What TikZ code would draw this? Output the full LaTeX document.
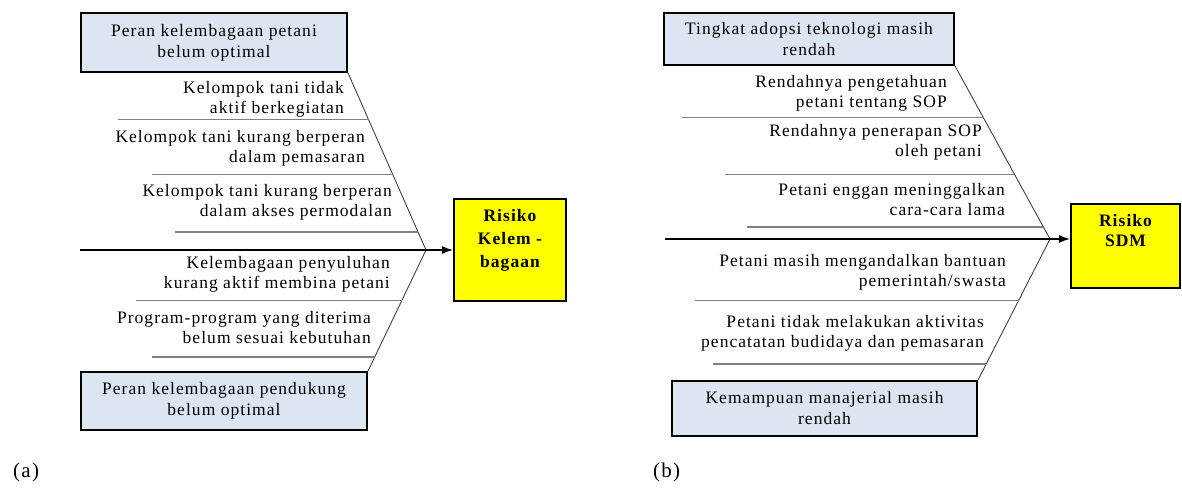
\documentclass[tikz,border=0pt]{standalone}
\usepackage{fontspec}
\setmainfont[LetterSpace=6]{Liberation Serif}
\usetikzlibrary{arrows.meta,calc}
\definecolor{causefill}{HTML}{DCE6F2}
\definecolor{riskfill}{HTML}{FFFF00}
\definecolor{bonegray}{HTML}{808080}

\begin{document}
\begin{tikzpicture}[x=1pt,y=-1pt,
  causebox/.style={draw,line width=2pt,fill=causefill,align=center,inner sep=0pt,font=\rmfamily\fontsize{17.5}{21}\selectfont},
  riskbox/.style={draw,line width=2pt,fill=riskfill,minimum width=112pt},
  risktext/.style={align=center,inner sep=0pt,anchor=north,font=\rmfamily\bfseries\fontsize{17.5}{23}\selectfont},
  subcause/.style={align=right,anchor=east,inner sep=0pt,font=\rmfamily\fontsize{17.5}{20}\selectfont},
  panel/.style={anchor=west,inner sep=0pt,font=\rmfamily\fontsize{21}{24}\selectfont},
  bone/.style={draw=bonegray,line width=1.5pt},
  rib/.style={draw=black!75,line width=0.9pt},
  spine/.style={line width=1.5pt,-{Latex[length=11pt,width=8pt]}}]
  \useasboundingbox (0,0) rectangle (1182,487);

  % (a) kelembagaan
  \node[causebox,minimum width=266pt,minimum height=59pt] (ta) at (214,42.5) {Peran kelembagaan petani\\belum optimal};
  \node[causebox,minimum width=286pt,minimum height=58pt] (ba) at (224,401) {Peran kelembagaan pendukung\\belum optimal};
  \node[riskbox,minimum height=102pt] (ra) at (510,250) {};
  \node[risktext] (rat) at ($(ra.north)+(0,11)$) {Risiko\\Kelem -\\bagaan};
  \coordinate (ja) at (426,250);
  \coordinate (sa) at (80,250);
  \draw[rib] (ta.south east) -- (ja) -- (ba.north east);
  \draw[spine] (sa) -- (ra.west);
  \foreach \t/\l in {0.264/251,0.573/241,0.899/243}
    \draw[bone] ($(ta.south east)!\t!(ja)$) -- ++(-\l,0);
  \foreach \t/\l in {0.418/266,0.885/223}
    \draw[bone] ($(ja)!\t!(ba.north east)$) -- ++(-\l,0);
  \node[subcause] (a1) at (344,99) {Kelompok tani tidak\\aktif berkegiatan};
  \node[subcause] (a2) at (365,148) {Kelompok tani kurang berperan\\dalam pemasaran};
  \node[subcause] (a3) at (392,202) {Kelompok tani kurang berperan\\dalam akses permodalan};
  \node[subcause] (a4) at (390,274) {Kelembagaan penyuluhan\\kurang aktif membina petani};
  \node[subcause] (a5) at (371,328) {Program-program yang diterima\\belum sesuai kebutuhan};
  \node[panel] (pa) at (13,472) {(a)};

  % (b) SDM
  \node[causebox,minimum width=290pt,minimum height=52pt] (tb) at (809,39) {Tingkat adopsi teknologi masih\\rendah};
  \node[causebox,minimum width=305pt,minimum height=55pt] (bb) at (824.5,408.5) {Kemampuan manajerial masih\\rendah};
  \node[riskbox,minimum width=109pt,minimum height=84pt] (rb) at (1125.5,246) {};
  \node[risktext,font=\rmfamily\bfseries\fontsize{17.5}{20}\selectfont] (rbt) at ($(rb.north)+(0,11)$) {Risiko\\SDM};
  \coordinate (jb) at (1050,239);
  \coordinate (sb) at (665,239);
  \draw[rib] (tb.south east) -- (jb) -- (bb.north east);
  \draw[spine] (sb) -- (jb -| rb.west);
  \foreach \t/\l in {0.299/301,0.626/289,0.931/296}
    \draw[bone] ($(tb.south east)!\t!(jb)$) -- ++(-\l,0);
  \foreach \t/\l in {0.437/324,0.887/273}
    \draw[bone] ($(jb)!\t!(bb.north east)$) -- ++(-\l,0);
  \node[subcause] (b1) at (947,93) {Rendahnya pengetahuan\\petani tentang SOP};
  \node[subcause] (b2) at (982,142) {Rendahnya penerapan SOP\\oleh petani};
  \node[subcause] (b3) at (1005,200) {Petani enggan meninggalkan\\cara-cara lama};
  \node[subcause] (b4) at (1006,272) {Petani masih mengandalkan bantuan\\pemerintah/swasta};
  \node[subcause] (b5) at (984,333) {Petani tidak melakukan aktivitas\\pencatatan budidaya dan pemasaran};
  \node[panel] (pb) at (653,472) {(b)};
\end{tikzpicture}
\end{document}
